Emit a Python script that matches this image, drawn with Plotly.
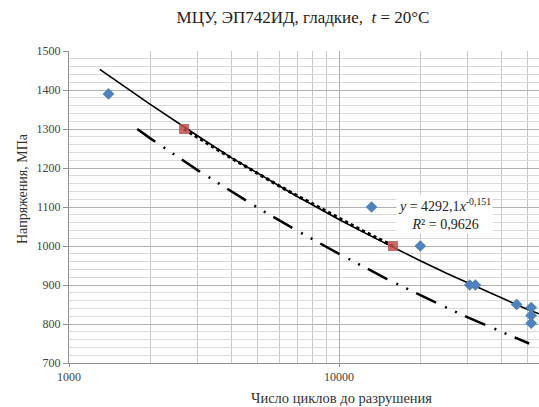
import plotly.graph_objects as go

# Experimental points (blue diamonds)
n_exp = [1400, 13200, 20000, 30500, 32000, 45500, 51500, 51500, 51500]
s_exp = [1390, 1100, 1000, 900, 900, 850, 842, 822, 802]

# Highlighted points (red squares)
n_sel = [2667, 15850]
s_sel = [1300, 1000]

# Power trendline y = 4292,1 x^-0,151
n_trend = [1300, 2000, 3000, 4000, 5000, 6000, 7000, 8000, 9000, 10000,
           12500, 15000, 20000, 25000, 30000, 35000, 40000, 50000, 55000]
s_trend = [1453, 1363, 1282, 1226, 1187, 1154, 1127, 1105, 1085, 1068,
           1033, 1005, 962, 930, 905, 885, 866, 837, 826]

# Dotted curve between red squares
n_dot = [2667, 4000, 6000, 8000, 10000, 12000, 15850]
s_dot = [1300, 1225, 1154, 1107, 1070, 1042, 1000]

# Dash-dot-dot lower curve
n_low = [1790, 2000, 3000, 4000, 5000, 7000, 10000, 15000, 20000, 25000, 30000, 40000, 50600]
s_low = [1300, 1276, 1194, 1139, 1098, 1039, 980, 916, 874, 842, 817, 779, 750]

x_major = [1000, 10000]
x_minor = [2000, 3000, 4000, 5000, 6000, 7000, 8000, 9000, 20000, 30000, 40000, 50000]
y_ticks = [700, 800, 900, 1000, 1100, 1200, 1300, 1400, 1500]

serif = "Liberation Serif, Times New Roman, serif"

fig = go.Figure()
fig.add_trace(go.Scatter(x=n_low, y=s_low, mode="lines",
                         line=dict(color="black", width=2.5,
                                   dash="22px,10px,2px,9px,2px,9px"),
                         showlegend=False, hoverinfo="skip"))
fig.add_trace(go.Scatter(x=n_trend, y=s_trend, mode="lines",
                         line=dict(color="black", width=1.6),
                         showlegend=False, hoverinfo="skip"))
fig.add_trace(go.Scatter(x=n_dot, y=s_dot, mode="lines",
                         line=dict(color="black", width=3.2, dash="dot"),
                         showlegend=False, hoverinfo="skip"))
fig.add_trace(go.Scatter(x=n_exp, y=s_exp, mode="markers",
                         marker=dict(symbol="diamond", size=9, color="#4F81BD"),
                         showlegend=False))
fig.add_trace(go.Scatter(x=n_sel, y=s_sel, mode="markers",
                         marker=dict(symbol="square", size=10, color="#C0504D",
                                     opacity=0.85),
                         showlegend=False))

fig.update_layout(
    width=539, height=407,
    margin=dict(l=69, r=0, t=51, b=44),
    paper_bgcolor="white", plot_bgcolor="white",
    font=dict(family=serif, color="#333333"),
    title=dict(text="МЦУ, ЭП742ИД, гладкие,  <i>t</i> = 20°C",
               x=(303 / 539), xanchor="center", y=1 - 17 / 407, yanchor="middle",
               font=dict(family=serif, size=17, color="#222222")),
    xaxis=dict(type="log", range=[3, 4.7407],
               tickvals=x_major, ticktext=[str(v) for v in x_major],
               showgrid=True, gridcolor="#B0B0B0", gridwidth=1,
               minor=dict(tickvals=x_minor, showgrid=True, gridcolor="#C8C8C8",
                          gridwidth=1, ticks=""),
               ticks="outside", ticklen=3, tickcolor="#909090",
               showline=True, linecolor="#909090", linewidth=1,
               zeroline=False,
               tickfont=dict(family=serif, size=12, color="#444444")),
    yaxis=dict(range=[700, 1500], tickvals=y_ticks,
               showgrid=True, gridcolor="#B0B0B0", gridwidth=1,
               minor=dict(dtick=20, showgrid=True, gridcolor="#DADADA",
                          gridwidth=1, ticks=""),
               ticks="outside", ticklen=5, tickcolor="#909090",
               showline=True, linecolor="#909090", linewidth=1,
               zeroline=False,
               tickfont=dict(family=serif, size=12, color="#444444")),
    annotations=[
        dict(text="Напряжения, МПа", textangle=-90, xref="paper", yref="paper",
             x=(22 - 69) / 470, y=(363 - 189) / 312, showarrow=False,
             xanchor="center", yanchor="middle",
             font=dict(family=serif, size=14, color="#333333")),
        dict(text="Число циклов до разрушения", xref="paper", yref="paper",
             x=(341 - 69) / 470, y=(363 - 398) / 312, showarrow=False,
             xanchor="center", yanchor="middle",
             font=dict(family=serif, size=14.5, color="#333333")),
        dict(text="<i>y</i> = 4292,1<i>x</i><sup>-0,151</sup><br><i>R</i>² = 0,9626",
             xref="x", yref="y", x=4.39, y=1082, showarrow=False,
             xanchor="center", yanchor="middle", align="center",
             bgcolor="white", borderpad=1,
             font=dict(family=serif, size=14, color="#222222")),
    ],
)

fig.write_html("out.html", config={"displayModeBar": False},
               post_script="document.body.style.margin='0';document.body.style.overflow='hidden';")
